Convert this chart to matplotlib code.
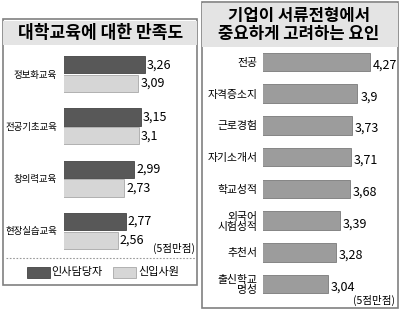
import matplotlib
matplotlib.use("Agg")
import matplotlib.pyplot as plt
from matplotlib.patches import Rectangle

plt.rcParams['font.family'] = ['Noto Sans CJK KR', 'DejaVu Sans']

# left chart: satisfaction with university education
left_title = "대학교육에 대한 만족도"
left_cats = ["정보화교육", "전공기초교육", "창의력교육", "현장실습교육"]
hr_vals = [3.26, 3.15, 2.99, 2.77]      # 인사담당자
new_vals = [3.09, 3.1, 2.73, 2.56]      # 신입사원
left_legend = ["인사담당자", "신입사원"]

# right chart: factors in document screening
right_title = "기업이 서류전형에서\n중요하게 고려하는 요인"
right_cats = ["전공", "자격증소지", "근로경험", "자기소개서", "학교성적",
              "외국어\n시험성적", "추천서", "출신학교\n명성"]
right_vals = [4.27, 3.9, 3.73, 3.71, 3.68, 3.39, 3.28, 3.04]

note = "(5점만점)"

W, H = 400, 311
fig = plt.figure(figsize=(W / 100, H / 100), dpi=100)
fig.patch.set_facecolor("white")


def box(x0, y0, x1, y1):
    # pixel box (top-left origin) -> figure fraction rect
    return [x0 / W, 1 - y1 / H, (x1 - x0) / W, (y1 - y0) / H]


def fmt(v):
    return str(v).replace(".", ",")


# panel frames and title bands
for (x0, y0, x1, y1), (tx0, ty0, tx1, ty1) in [((3, 19, 197, 285), (3, 21, 197, 45)),
                                               ((202, 2, 398, 308), (202, 3, 398, 47))]:
    fig.patches.append(Rectangle((x0 / W, 1 - y1 / H), (x1 - x0) / W, (y1 - y0) / H,
                                 transform=fig.transFigure, facecolor="white",
                                 edgecolor="#808080", linewidth=1.2, zorder=0))
    fig.patches.append(Rectangle((tx0 / W, 1 - ty1 / H), (tx1 - tx0) / W, (ty1 - ty0) / H,
                                 transform=fig.transFigure, facecolor="#e4e4e4",
                                 edgecolor="none", zorder=0))

fig.text(101 / W, 1 - 33 / H, left_title, ha="center", va="center",
         fontsize=12.3, fontweight="bold")
fig.text(299 / W, 1 - 25 / H, right_title, ha="center", va="center",
         fontsize=12, fontweight="bold", linespacing=1.0)

# ---- left chart ----
ax1 = fig.add_axes(box(64, 48, 197, 257))
ax1.set_zorder(3)
n = len(left_cats)
ys = list(range(n))
h = 0.33
off = 0.178
ax1.barh([y - off for y in ys], hr_vals, height=h, color="#585858",
         edgecolor="#444444", linewidth=0.6)
ax1.barh([y + off for y in ys], new_vals, height=h, color="#d6d6d6",
         edgecolor="#a8a8a8", linewidth=0.6)
for y, a, b in zip(ys, hr_vals, new_vals):
    ax1.text(a + 0.05, y - off, fmt(a), va="center", ha="left", fontsize=9)
    ax1.text(b + 0.05, y + off, fmt(b), va="center", ha="left", fontsize=9)
ax1.set_xlim(1.166, 4.61)
ax1.set_ylim(n - 0.5, -0.5)
ax1.set_yticks(ys)
ax1.set_yticklabels(left_cats, fontsize=6.8)
ax1.tick_params(axis="y", length=0, pad=5)
ax1.set_xticks([])
for s in ax1.spines.values():
    s.set_visible(False)
ax1.patch.set_alpha(0)

fig.text(195 / W, 1 - 248 / H, note, ha="right", va="center", fontsize=7.6)
fig.lines.append(plt.Line2D([6 / W, 195 / W], [1 - 258 / H, 1 - 258 / H],
                            transform=fig.transFigure, color="#999999",
                            linewidth=0.8, linestyle=(0, (1.5, 1.5))))

# legend
fig.patches.append(Rectangle((27 / W, 1 - 278 / H), 23 / W, 11 / H, transform=fig.transFigure,
                             facecolor="#585858", edgecolor="#444444", linewidth=0.6))
fig.text(51 / W, 1 - 272 / H, left_legend[0], ha="left", va="center", fontsize=8)
fig.patches.append(Rectangle((113 / W, 1 - 278 / H), 23 / W, 11 / H, transform=fig.transFigure,
                             facecolor="#d6d6d6", edgecolor="#a8a8a8", linewidth=0.6))
fig.text(138 / W, 1 - 272 / H, left_legend[1], ha="left", va="center", fontsize=8)

# ---- right chart ----
ax2 = fig.add_axes(box(263, 46, 397, 300))
ax2.set_zorder(3)
m = len(right_cats)
ry = list(range(m))
ax2.barh(ry, right_vals, height=0.58, color="#9c9c9c", edgecolor="#7a7a7a", linewidth=0.6)
for y, v in zip(ry, right_vals):
    ax2.text(v + 0.08, y + 0.1, fmt(v), va="center", ha="left", fontsize=9)
ax2.set_xlim(1.132, 5.06)
ax2.set_ylim(m - 0.5, -0.5)
ax2.set_yticks(ry)
ax2.set_yticklabels(right_cats, fontsize=7.8, linespacing=1.0, ha="right")
ax2.tick_params(axis="y", length=0, pad=4)
ax2.set_xticks([])
for s in ax2.spines.values():
    s.set_visible(False)
ax2.patch.set_alpha(0)

fig.text(395 / W, 1 - 300 / H, note, ha="right", va="center", fontsize=7.6)

fig.savefig("out.png", dpi=100)
